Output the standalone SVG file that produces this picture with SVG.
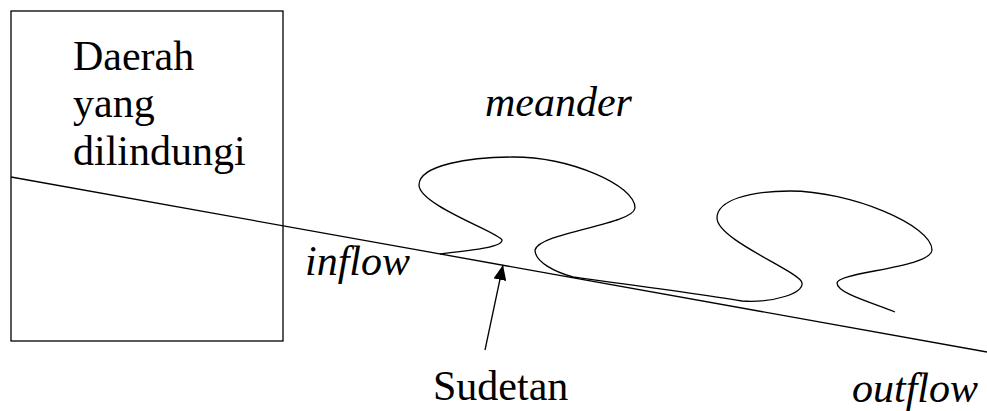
<svg xmlns="http://www.w3.org/2000/svg" width="987" height="411" viewBox="0 0 987 411">
<defs>
<marker id="ah" viewBox="0 0 15 13" refX="15" refY="6.5" markerWidth="15" markerHeight="13" markerUnits="userSpaceOnUse" orient="auto">
<path d="M0,0 L15,6.5 L0,13 Z" fill="#000"/>
</marker>
</defs>
<rect width="987" height="411" fill="#fff"/>
<g font-family="Liberation Serif" font-size="42" fill="#000">
<g id="area">
<rect x="11" y="11" width="272" height="330" fill="none" stroke="#000" stroke-width="1.3"/>
<text x="73" y="70">Daerah</text>
<text x="73" y="117">yang</text>
<text x="73" y="165">dilindungi</text>
</g>
<g id="meander">
<text font-style="italic" x="485" y="116">meander</text>
</g>
<g id="inflow"><text font-style="italic" x="305" y="275">inflow</text></g>
<g id="outflow"><text font-style="italic" x="852" y="402">outflow</text></g>
<g id="sudetan"><text x="433" y="400">Sudetan</text></g>
</g>
<g id="connectors" fill="none" stroke="#000" stroke-width="1.3">
<line x1="11" y1="177" x2="987" y2="352"/>
<path d="M440,254 C475,250 503,247 502,240 C500,233 419,205 419,185 C419,165 470,157 513,157 C570,157 635,185 635,208 C633,225 540,232 535,250 C535,262 555,272 573,277 C640,286 700,294 742,301 C775,303 803,293 802,283 C801,272 717,240 717,218 C717,200 750,191 790,191 C850,191 932,225 932,250 C931,268 837,272 837,283 C837,293 870,302 895,312"/>
<line x1="485" y1="350" x2="503" y2="265" marker-end="url(#ah)"/>
</g>
</svg>
